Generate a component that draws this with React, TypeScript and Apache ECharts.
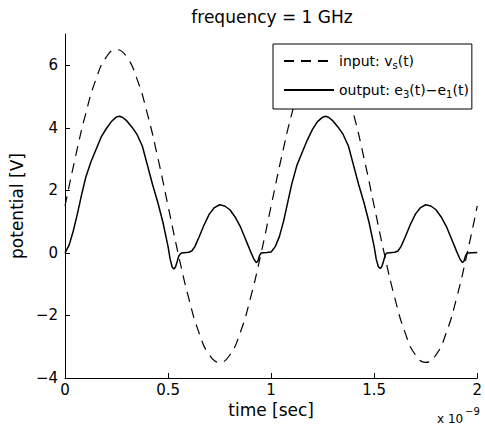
import React, { useEffect, useRef } from "react";
import * as echarts from "echarts";

// time in ns (axis shows x 10^-9)
const inputTime = [
  0, 0.05, 0.1, 0.15, 0.2, 0.25, 0.3, 0.35, 0.4, 0.45, 0.5, 0.55, 0.6, 0.65, 0.7, 0.75, 0.8, 0.85, 0.9, 0.95,
  1.0, 1.05, 1.1, 1.15, 1.2, 1.25, 1.3, 1.35, 1.4, 1.45, 1.5, 1.55, 1.6, 1.65, 1.7, 1.75, 1.8, 1.85, 1.9, 1.95, 2.0,
];
const inputVoltage = [
  1.5, 3.05, 4.44, 5.55, 6.26, 6.5, 6.26, 5.55, 4.44, 3.05, 1.5, -0.05, -1.44, -2.55, -3.26, -3.5, -3.26, -2.55, -1.44, -0.05,
  1.5, 3.05, 4.44, 5.55, 6.26, 6.5, 6.26, 5.55, 4.44, 3.05, 1.5, -0.05, -1.44, -2.55, -3.26, -3.5, -3.26, -2.55, -1.44, -0.05, 1.5,
];

const outputTime = [
  0, 0.02, 0.04, 0.06, 0.08, 0.1, 0.125, 0.15, 0.175, 0.2, 0.225, 0.25, 0.265, 0.28, 0.3, 0.325, 0.35, 0.375, 0.4, 0.425,
  0.45, 0.475, 0.5, 0.51, 0.52, 0.528, 0.536, 0.544, 0.552, 0.56, 0.566, 0.6, 0.615, 0.63, 0.65, 0.675, 0.7, 0.725, 0.75,
  0.775, 0.8, 0.825, 0.85, 0.875, 0.9, 0.915, 0.928, 0.936, 0.944, 0.952, 0.98, 1.0, 1.02, 1.04, 1.06, 1.08, 1.1, 1.125,
  1.15, 1.175, 1.2, 1.225, 1.25, 1.265, 1.28, 1.3, 1.325, 1.35, 1.375, 1.4, 1.425, 1.45, 1.475, 1.5, 1.51, 1.52, 1.53,
  1.538, 1.546, 1.553, 1.558, 1.565, 1.6, 1.615, 1.63, 1.65, 1.675, 1.7, 1.725, 1.75, 1.775, 1.8, 1.825, 1.85, 1.875, 1.9,
  1.915, 1.928, 1.936, 1.944, 1.952, 2.0,
];
const outputVoltage = [
  0, 0.25, 0.7, 1.25, 1.85, 2.4, 2.9, 3.3, 3.7, 3.97, 4.2, 4.35, 4.37, 4.33, 4.22, 4.02, 3.78, 3.42, 2.8, 2.18,
  1.62, 0.98, 0.2, -0.2, -0.45, -0.52, -0.45, -0.28, -0.1, -0.03, 0, 0.02, 0.06, 0.2, 0.5, 0.9, 1.24, 1.45, 1.54,
  1.5, 1.38, 1.15, 0.85, 0.45, 0.05, -0.18, -0.31, -0.26, -0.08, 0, 0.01, 0.03, 0.2, 0.52, 1.0, 1.6, 2.2, 2.8,
  3.2, 3.6, 3.94, 4.2, 4.34, 4.37, 4.33, 4.22, 4.02, 3.78, 3.42, 2.8, 2.18, 1.62, 0.98, 0.2, -0.2, -0.44, -0.5,
  -0.42, -0.25, -0.08, -0.02, 0, 0.02, 0.06, 0.2, 0.5, 0.9, 1.24, 1.45, 1.54, 1.5, 1.38, 1.15, 0.85, 0.45, 0.05,
  -0.18, -0.31, -0.26, -0.08, 0, 0.01,
];

const xTicks = [0, 0.5, 1, 1.5, 2];
const yTicks = [-4, -2, 0, 2, 4, 6];

const FONT = "'DejaVu Sans', 'Liberation Sans', Arial, sans-serif";

const fmt = (v: number) => (v < 0 ? "\u2212" + String(Math.abs(v)) : String(v));

export default function App() {
  const ref = useRef<HTMLDivElement>(null);
  useEffect(() => {
    const chart = echarts.init(ref.current!, null, { renderer: "svg" });
    const inputData = inputTime.map((t, i) => [t, inputVoltage[i]]);
    const outputData = outputTime.map((t, i) => [t, outputVoltage[i]]);
    chart.setOption({
      animation: false,
      backgroundColor: "#fff",
      textStyle: { fontFamily: FONT, color: "#000" },
      title: {
        text: "frequency = 1 GHz",
        left: 272,
        top: 8,
        textAlign: "center",
        padding: 0,
        textStyle: { fontFamily: FONT, fontSize: 17, fontWeight: "normal", color: "#000" },
      },
      grid: { left: 64, right: 5, top: 34, bottom: 51, containLabel: false },
      legend: {
        orient: "vertical",
        left: 273,
        top: 44,
        padding: [10, 3, 10, 10],
        itemGap: 13,
        itemWidth: 50,
        itemHeight: 14,
        backgroundColor: "#fff",
        borderColor: "#000",
        borderWidth: 1,
        borderRadius: 0,
        itemStyle: { opacity: 0, borderWidth: 0 },
        data: ["input", "output"],
        formatter: (name: string) =>
          name === "input" ? "{n|input: v}{s|s}{n|(t)}" : "{n|output: e}{s|3}{n|(t)\u2212e}{s|1}{n|(t)}",
        textStyle: {
          fontFamily: FONT,
          color: "#000",
          rich: {
            n: { fontFamily: FONT, fontSize: 14, color: "#000", lineHeight: 18 },
            s: { fontFamily: FONT, fontSize: 10, color: "#000", verticalAlign: "bottom", lineHeight: 10 },
          },
        },
      },
      xAxis: {
        type: "value",
        min: 0,
        max: 2,
        interval: 0.5,
        name: "time [sec]",
        nameLocation: "middle",
        nameGap: 18,
        nameTextStyle: { fontFamily: FONT, fontSize: 17, color: "#000" },
        axisLine: { onZero: false, lineStyle: { color: "#000", width: 1 } },
        axisTick: { inside: true, length: 5, lineStyle: { color: "#000" }, customValues: xTicks },
        axisLabel: { margin: 4, fontFamily: FONT, fontSize: 15, color: "#000", formatter: (v: number) => String(v), customValues: xTicks },
        splitLine: { show: false },
      },
      yAxis: {
        type: "value",
        min: -4,
        max: 7,
        name: "potential [V]",
        nameLocation: "middle",
        nameGap: 31,
        nameTextStyle: { fontFamily: FONT, fontSize: 17, color: "#000" },
        axisLine: { show: true, onZero: false, lineStyle: { color: "#000", width: 1 } },
        axisTick: { show: true, inside: true, length: 5, lineStyle: { color: "#000" }, customValues: yTicks },
        axisLabel: { margin: 7, fontFamily: FONT, fontSize: 15, color: "#000", formatter: fmt, customValues: yTicks },
        splitLine: { show: false },
      },
      graphic: [
        { type: "text", left: 437, top: 413, style: { text: "x 10", fontFamily: FONT, fontSize: 12, fill: "#000" } },
        { type: "text", left: 465, top: 406, style: { text: "\u22129", fontFamily: FONT, fontSize: 10, fill: "#000" } },
      ],
      series: [
        {
          name: "input",
          type: "line",
          data: inputData,
          symbol: "none",
          smooth: 0.5,
          lineStyle: { color: "#000", width: 1.2, type: [10, 7] },
          itemStyle: { color: "#000" },
          z: 2,
        },
        {
          name: "output",
          type: "line",
          data: outputData,
          symbol: "none",
          lineStyle: { color: "#000", width: 1.5, type: "solid" },
          itemStyle: { color: "#000" },
          z: 3,
        },
      ],
    });
    return () => chart.dispose();
  }, []);
  return (
    <div
      ref={ref}
      style={{ position: "fixed", left: 0, top: 0, width: 485, height: 429, background: "#fff" }}
    />
  );
}
